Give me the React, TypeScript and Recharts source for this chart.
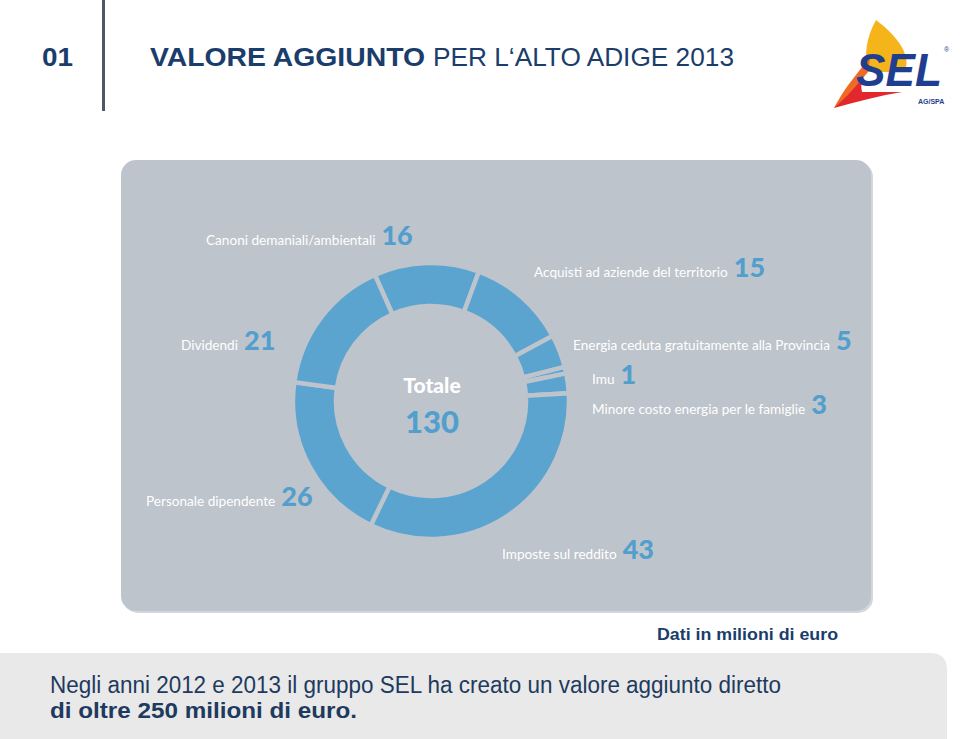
import React from 'react';
import { PieChart, Pie, Cell } from 'recharts';

const categories = [
  'Canoni demaniali/ambientali',
  'Acquisti ad aziende del territorio',
  'Energia ceduta gratuitamente alla Provincia',
  'Imu',
  'Minore costo energia per le famiglie',
  'Imposte sul reddito',
  'Personale dipendente',
  'Dividendi',
];
const values = [16, 15, 5, 1, 3, 43, 26, 21];
const totalLabel = 'Totale';
const totalValue = 130;

const headerNumber = '01';
const titleBold = 'VALORE AGGIUNTO';
const titleRegular = 'PER L‘ALTO ADIGE 2013';
const unitNote = 'Dati in milioni di euro';
const footerLine1 = 'Negli anni 2012 e 2013 il gruppo SEL ha creato un valore aggiunto diretto';
const footerLine2 = 'di oltre 250 milioni di euro.';

const data = categories.map((name, i) => ({ name, value: values[i] }));

// label layout (positions only)
const labelLayout = [
  { x: 206, y: 245 },
  { x: 534, y: 277 },
  { x: 573, y: 350 },
  { x: 592, y: 384 },
  { x: 592, y: 414 },
  { x: 502, y: 559 },
  { x: 146, y: 506 },
  { x: 181, y: 350 },
];

const PANEL = '#BDC4CC';
const DONUT = '#5CA4D0';
const NUM = '#529FCD';
const NAVY = '#1A3D6B';
const SANS = "'Liberation Sans', Arial, sans-serif";

export default function App() {
  return (
    <div style={{ position: 'absolute', left: 0, top: 0, width: 960, height: 739, background: '#fff', overflow: 'hidden' }}>
      <svg width={960} height={739} style={{ position: 'absolute', left: 0, top: 0 }}>
        {/* header */}
        <text x={42} y={66} fontFamily={SANS} fontWeight={700} fontSize={26} fill={NAVY} textLength={31} lengthAdjust="spacingAndGlyphs">
          {headerNumber}
        </text>
        <rect x={102} y={0} width={3} height={111} fill="#4E5868" />
        <text x={150} y={66} fontFamily={SANS} fontWeight={700} fontSize={26.5} fill={NAVY} textLength={275} lengthAdjust="spacingAndGlyphs">
          {titleBold}
        </text>
        <text x={433} y={66} fontFamily={SANS} fontWeight={400} fontSize={26.5} fill={NAVY} textLength={301} lengthAdjust="spacingAndGlyphs">
          {titleRegular}
        </text>
        {/* logo */}
        <path d="M876 20 C 900 38, 912 58, 904 72 L 868 72 C 864 55, 866 38, 876 20 Z" fill="#F4B41A" />
        <path d="M868 62 C 858 76, 846 92, 834 108 C 856 102, 878 96, 902 92 L 862 92 C 860 82, 862 72, 868 62 Z" fill="#E2282D" />
        <path d="M834 108 C 842 92, 856 74, 870 58 L 868 72 C 858 84, 846 98, 834 108 Z" fill="#EF6A22" />
        <text x={856} y={86} fontFamily={SANS} fontWeight={700} fontStyle="italic" fontSize={46} fill="#1F3E8F" textLength={86} lengthAdjust="spacingAndGlyphs">
          SEL
        </text>
        <text x={944} y={52} fontFamily={SANS} fontSize={7} fill="#1F3E8F">®</text>
        <text x={918} y={104} fontFamily={SANS} fontWeight={700} fontSize={7} fill="#1F3E8F">AG/SPA</text>
        {/* panel */}
        <rect x={123} y={162} width={750} height={451} rx={15} fill="#D3D7DC" />
        <rect x={121} y={160} width={750} height={451} rx={15} fill={PANEL} />
        {/* bottom */}
        <text x={838} y={640} textAnchor="end" fontFamily={SANS} fontWeight={700} fontSize={16} fill={NAVY} textLength={181} lengthAdjust="spacingAndGlyphs">
          {unitNote}
        </text>
        <path d="M0 653 L 930 653 Q 947 653 947 670 L 947 739 L 0 739 Z" fill="#E9E9E9" />
        <text x={50} y={693} fontFamily={SANS} fontWeight={400} fontSize={23} fill="#1E3A5E" textLength={731} lengthAdjust="spacingAndGlyphs">
          {footerLine1}
        </text>
        <text x={50} y={718} fontFamily={SANS} fontWeight={700} fontSize={22} fill="#1E3A5E" textLength={307} lengthAdjust="spacingAndGlyphs">
          {footerLine2}
        </text>
      </svg>
      <div style={{ position: 'absolute', left: 0, top: 0 }}>
        <PieChart width={960} height={739} margin={{ top: 0, right: 0, bottom: 0, left: 0 }}>
          <Pie
            data={data}
            dataKey="value"
            nameKey="name"
            cx={431}
            cy={401}
            innerRadius={95}
            outerRadius={138}
            startAngle={114}
            endAngle={-246}
            paddingAngle={0}
            stroke={PANEL}
            strokeWidth={4.5}
            isAnimationActive={false}
          >
            {data.map((d) => (
              <Cell key={d.name} fill={DONUT} stroke={PANEL} strokeWidth={4.5} />
            ))}
          </Pie>
        </PieChart>
      </div>
      <svg width={960} height={739} style={{ position: 'absolute', left: 0, top: 0, pointerEvents: 'none' }}>
        {data.map((d, i) => (
          <text key={d.name} x={labelLayout[i].x} y={labelLayout[i].y} fontFamily="Lato, 'Open Sans', sans-serif">
            <tspan fontSize={13.6} fill="#FFFFFF">{d.name}</tspan>
            <tspan dx={6} fontSize={27} fontWeight={900} fill={NUM}>{d.value}</tspan>
          </text>
        ))}
        <text x={432} y={393} textAnchor="middle" fontFamily="Lato, 'Open Sans', sans-serif" fontWeight={900} fontSize={21} fill="#FFFFFF">
          {totalLabel}
        </text>
        <text x={432} y={433} textAnchor="middle" fontFamily="Lato, 'Open Sans', sans-serif" fontWeight={900} fontSize={31} fill={NUM}>
          {totalValue}
        </text>
      </svg>
    </div>
  );
}
